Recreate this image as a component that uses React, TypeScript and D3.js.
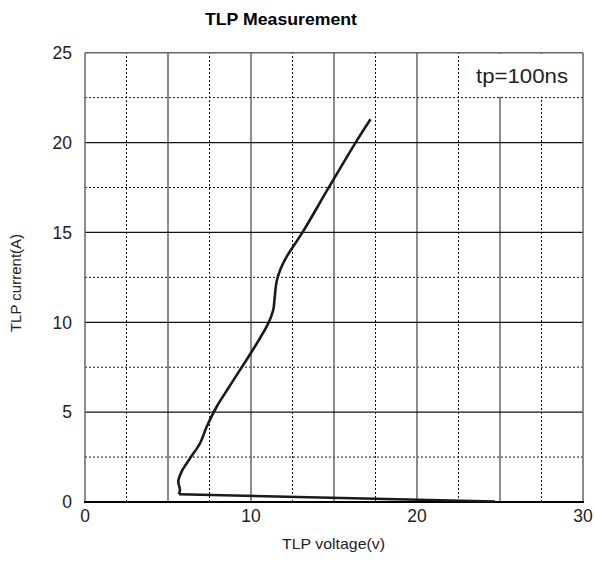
import React, { useRef, useEffect } from "react";
import * as d3 from "d3";

// TLP curve, voltage (V) / current (A)
const returnV = [24.7, 5.66];
const returnI = [0.03, 0.43];

const riseV = [5.66, 5.72, 5.62, 5.82, 6.33, 6.93, 7.33, 7.93, 8.63, 9.34, 10.04, 11.04, 11.34, 11.42, 11.55, 11.8, 12.15, 13.1, 14.66, 16.3, 17.2];
const riseI = [0.43, 0.7, 1.13, 1.69, 2.43, 3.27, 4.19, 5.3, 6.33, 7.35, 8.36, 9.94, 10.68, 11.3, 12.3, 13.0, 13.65, 15.0, 17.46, 20.0, 21.3];

const xTicks = [0, 10, 20, 30];
const yTicks = [0, 5, 10, 15, 20, 25];
const xMajor = [5, 10, 15, 20, 25];
const xMinor = [2.5, 7.5, 12.5, 17.5, 22.5, 27.5];
const yMajor = [5, 10, 15, 20];
const yMinor = [2.5, 7.5, 12.5, 17.5, 22.5];

const W = 595;
const H = 565;
const font = "'Liberation Sans', Arial, sans-serif";

const App: React.FC = () => {
	const svgRef = useRef<SVGSVGElement | null>(null);

	useEffect(() => {
		if (!svgRef.current) return;
		const svg = d3.select(svgRef.current);
		svg.selectAll("*").remove();

		const x = d3.scaleLinear().domain([0, 30]).range([85, 583]);
		const y = d3.scaleLinear().domain([0, 25]).range([502, 52.7]);
		const [x0, x1] = x.range();
		const [y0, y1] = y.range();

		svg.append("rect").attr("width", W).attr("height", H).attr("fill", "#fff");

		// dotted grid
		svg.append("g")
			.selectAll("line")
			.data(xMinor)
			.join("line")
			.attr("x1", (d) => x(d)).attr("x2", (d) => x(d))
			.attr("y1", y0).attr("y2", y1)
			.attr("stroke", "#111").attr("stroke-width", 1)
			.attr("stroke-dasharray", "2,2");
		svg.append("g")
			.selectAll("line")
			.data(yMinor)
			.join("line")
			.attr("x1", x0).attr("x2", x1)
			.attr("y1", (d) => y(d)).attr("y2", (d) => y(d))
			.attr("stroke", "#111").attr("stroke-width", 1)
			.attr("stroke-dasharray", "2,2");

		// solid grid
		svg.append("g")
			.selectAll("line")
			.data(xMajor)
			.join("line")
			.attr("x1", (d) => x(d)).attr("x2", (d) => x(d))
			.attr("y1", y0).attr("y2", y1)
			.attr("stroke", "#666").attr("stroke-width", 1.5);
		svg.append("g")
			.selectAll("line")
			.data(yMajor)
			.join("line")
			.attr("x1", x0).attr("x2", x1)
			.attr("y1", (d) => y(d)).attr("y2", (d) => y(d))
			.attr("stroke", "#111").attr("stroke-width", 1.2);

		// box behind annotation
		svg.append("rect")
			.attr("x", x(23.3)).attr("y", y1 + 1)
			.attr("width", x1 - x(23.3) - 1)
			.attr("height", y(22.5) - y1 - 2)
			.attr("fill", "#fff");

		// frame
		svg.append("line").attr("x1", x0).attr("x2", x1).attr("y1", y1).attr("y2", y1)
			.attr("stroke", "#666").attr("stroke-width", 1.5);
		svg.append("line").attr("x1", x0).attr("x2", x0).attr("y1", y0).attr("y2", y1)
			.attr("stroke", "#666").attr("stroke-width", 1.5);
		svg.append("line").attr("x1", x1).attr("x2", x1).attr("y1", y0).attr("y2", y1)
			.attr("stroke", "#666").attr("stroke-width", 1.5);
		svg.append("line").attr("x1", x0 - 1).attr("x2", x1 + 1).attr("y1", y0).attr("y2", y0)
			.attr("stroke", "#000").attr("stroke-width", 2);

		// curve
		const ret = returnV.map((v, i) => [v, returnI[i]] as [number, number]);
		const rise = riseV.map((v, i) => [v, riseI[i]] as [number, number]);
		const lineLin = d3.line<[number, number]>().x((d) => x(d[0])).y((d) => y(d[1]));
		const lineSmooth = d3
			.line<[number, number]>()
			.x((d) => x(d[0]))
			.y((d) => y(d[1]))
			.curve(d3.curveCatmullRom.alpha(0.5));
		svg.append("path").attr("d", lineLin(ret)).attr("fill", "none")
			.attr("stroke", "#1a1a1a").attr("stroke-width", 2.6).attr("stroke-linecap", "butt");
		svg.append("path").attr("d", lineSmooth(rise)).attr("fill", "none")
			.attr("stroke", "#1a1a1a").attr("stroke-width", 2.6).attr("stroke-linejoin", "round");

		// tick labels
		svg.append("g")
			.selectAll("text")
			.data(yTicks)
			.join("text")
			.attr("x", 72).attr("y", (d) => y(d)).attr("dy", "0.36em")
			.attr("text-anchor", "end")
			.attr("font-family", font).attr("font-size", 17.5).attr("fill", "#222")
			.text((d) => d);
		svg.append("g")
			.selectAll("text")
			.data(xTicks)
			.join("text")
			.attr("x", (d) => x(d)).attr("y", 521.5)
			.attr("text-anchor", "middle")
			.attr("font-family", font).attr("font-size", 17.5).attr("fill", "#222")
			.text((d) => d);

		// titles
		svg.append("text")
			.attr("x", 205).attr("y", 25)
			.attr("textLength", 152).attr("lengthAdjust", "spacingAndGlyphs")
			.attr("font-family", font).attr("font-size", 17).attr("font-weight", "bold")
			.attr("fill", "#000")
			.text("TLP Measurement");
		svg.append("text")
			.attr("transform", "translate(21,283) rotate(-90)")
			.attr("text-anchor", "middle")
			.attr("font-family", font).attr("font-size", 15).attr("fill", "#222")
			.text("TLP current(A)");
		svg.append("text")
			.attr("x", 282).attr("y", 549)
			.attr("textLength", 103).attr("lengthAdjust", "spacingAndGlyphs")
			.attr("font-family", font).attr("font-size", 15).attr("fill", "#222")
			.text("TLP voltage(v)");
		svg.append("text")
			.attr("x", 476).attr("y", 83)
			.attr("textLength", 92).attr("lengthAdjust", "spacingAndGlyphs")
			.attr("font-family", font).attr("font-size", 20).attr("fill", "#222")
			.text("tp=100ns");
	}, []);

	return (
		<svg
			ref={svgRef}
			width={W}
			height={H}
			style={{ position: "absolute", left: 0, top: 0 }}
		/>
	);
};

export default App;
